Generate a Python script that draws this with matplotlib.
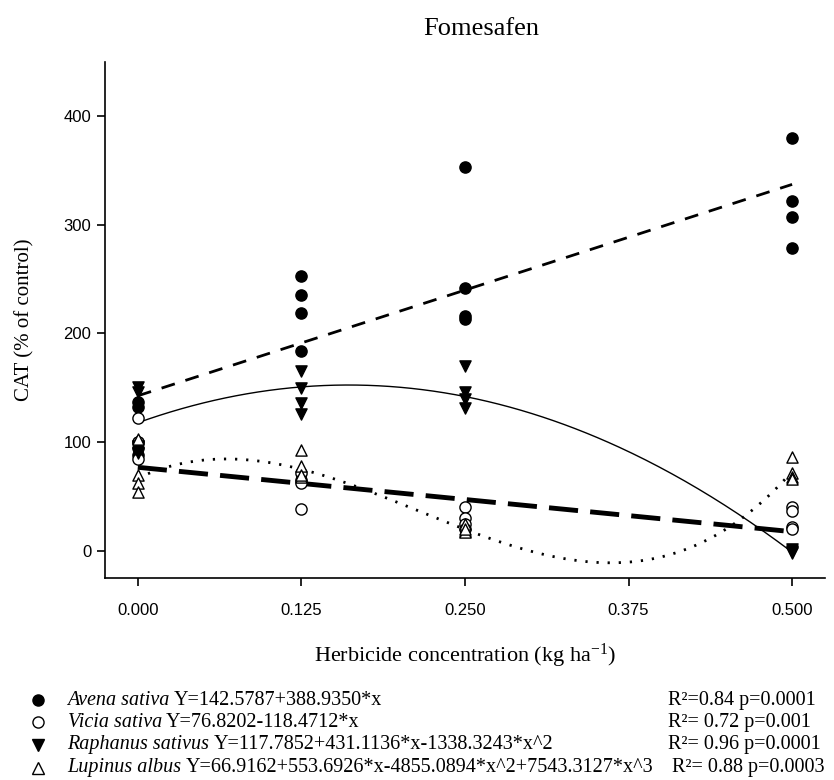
import numpy as np
import matplotlib
matplotlib.use("Agg")
import matplotlib.pyplot as plt
from matplotlib.lines import Line2D

plt.rcParams['mathtext.fontset'] = 'custom'
plt.rcParams['mathtext.rm'] = 'Liberation Serif'
plt.rcParams['mathtext.it'] = 'Liberation Serif:italic'

# herbicide doses (kg/ha)
conc = [0.0, 0.125, 0.25, 0.5]

# CAT (% of control), 4 reps per dose
avena = [[137, 132, 95, 88], [253, 235, 219, 184], [353, 242, 216, 213], [380, 322, 307, 279]]
vicia = [[122, 100, 100, 84], [72, 65, 62, 38], [40, 30, 25, 20], [40, 37, 22, 20]]
raphanus = [[151, 146, 96, 90], [165, 150, 136, 126], [170, 146, 140, 131], [2, 0, -1, -2]]
lupinus = [[103, 70, 62, 54], [93, 78, 68, 70], [25, 18, 17, 20], [86, 72, 68, 66]]

# regression coefficients (b0, b1, b2, b3)
coef_avena = [142.5787, 388.9350]
coef_vicia = [76.8202, -118.4712]
coef_raphanus = [117.7852, 431.1136, -1338.3243]
coef_lupinus = [66.9162, 553.6926, -4855.0894, 7543.3127]

species = ['Avena sativa', 'Vicia sativa', 'Raphanus sativus', 'Lupinus albus']
equations = ['Y=142.5787+388.9350*x',
             'Y=76.8202-118.4712*x',
             'Y=117.7852+431.1136*x-1338.3243*x^2',
             'Y=66.9162+553.6926*x-4855.0894*x^2+7543.3127*x^3']
stats = ['R²=0.84 p=0.0001', 'R²= 0.72 p=0.001', 'R²= 0.96 p=0.0001', 'R²= 0.88 p=0.0003']

fig = plt.figure(figsize=(8.34, 7.8), dpi=100)
ax = fig.add_axes([0.126, 0.259, 0.863, 0.662])

marker_style = [
    dict(marker='o', facecolor='black', edgecolor='black'),
    dict(marker='o', facecolor='white', edgecolor='black'),
    dict(marker='v', facecolor='black', edgecolor='black'),
    dict(marker='^', facecolor='white', edgecolor='black'),
]
all_data = [avena, vicia, raphanus, lupinus]

for data, st in zip(all_data, marker_style):
    xs = np.repeat(conc, 4)
    ys = np.array(data).ravel()
    ax.scatter(xs, ys, s=65, linewidths=1.0, zorder=3, **st)

xx = np.linspace(0, 0.5, 300)
def poly(c, x):
    return sum(b * x ** i for i, b in enumerate(c))

ax.plot(xx, poly(coef_avena, xx), color='black', lw=2, dashes=(5, 4), zorder=2)
ax.plot(xx, poly(coef_vicia, xx), color='black', lw=3.5, dashes=(6, 2.5), zorder=2)
ax.plot(xx, poly(coef_raphanus, xx), color='black', lw=1.0, zorder=2)
ax.plot(xx, poly(coef_lupinus, xx), color='black', lw=2, dashes=(0.8, 3.2), zorder=2)

ax.set_xlim(-0.025, 0.525)
ax.set_ylim(-25, 450)
ax.set_xticks([0, 0.125, 0.25, 0.375, 0.5])
ax.set_xticklabels(['0.000', '0.125', '0.250', '0.375', '0.500'])
ax.set_yticks([0, 100, 200, 300, 400])
for sp in ['top', 'right']:
    ax.spines[sp].set_visible(False)
for sp in ['left', 'bottom']:
    ax.spines[sp].set_linewidth(1.2)
ax.tick_params(direction='out', length=6, width=1.2, labelsize=12, pad=12)
for lab in ax.get_xticklabels() + ax.get_yticklabels():
    lab.set_fontfamily('Liberation Sans')
ax.tick_params(axis='y', pad=4)

ax.set_ylabel('CAT (% of control)', fontfamily='Liberation Serif', fontsize=15, labelpad=21)
ax.set_xlabel(r'Herbicide concentration (kg ha$^{-1}$)', fontfamily='Liberation Serif',
              fontsize=16, labelpad=17)
fig.text(0.577, 0.963, 'Fomesafen', ha='center', va='center',
         fontfamily='Liberation Serif', fontsize=19)

# legend block under the plot
row_y = [0.102, 0.074, 0.045, 0.016]
fig.canvas.draw()
renderer = fig.canvas.get_renderer()
for i in range(4):
    st = marker_style[i]
    fig.add_artist(Line2D([0.046], [row_y[i]], transform=fig.transFigure, ls='none',
                          marker=st['marker'], markersize=8,
                          markerfacecolor=st['facecolor'], markeredgecolor='black'))
    t = fig.text(0.081, row_y[i], species[i], ha='left', va='center', style='italic',
                 fontfamily='Liberation Serif', fontsize=14.5)
    bb = t.get_window_extent(renderer)
    x_next = (bb.x1 + 4) / fig.bbox.width
    fig.text(x_next, row_y[i], equations[i], ha='left', va='center',
             fontfamily='Liberation Serif', fontsize=14.5)
    fig.text(0.801 if i != 3 else 0.806, row_y[i], stats[i], ha='left', va='center',
             fontfamily='Liberation Serif', fontsize=14.5)

fig.savefig('out.png', dpi=100)
